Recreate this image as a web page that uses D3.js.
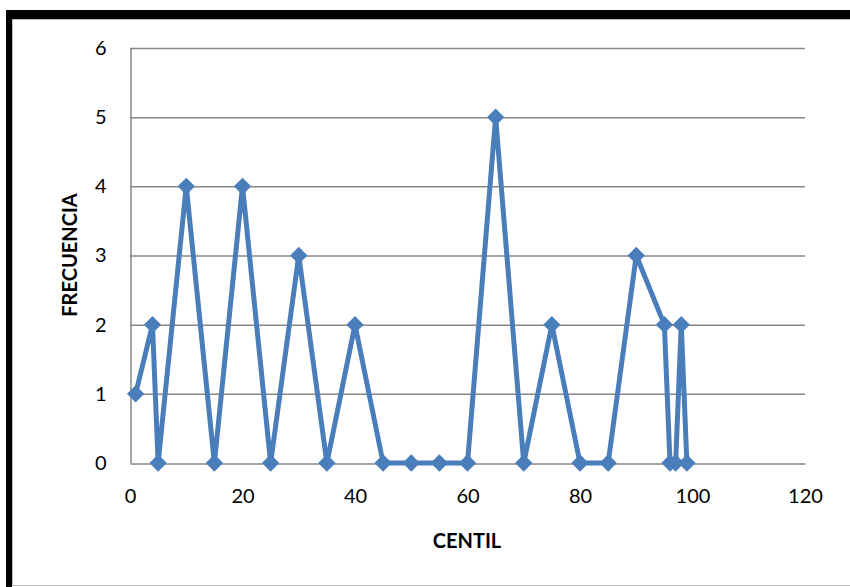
<!DOCTYPE html>
<html><head><meta charset="utf-8">
<script src="https://cdn.jsdelivr.net/npm/d3@7"></script>
<style>html,body{margin:0;padding:0;background:#fff;}svg{display:block;}</style>
</head><body>
<svg id="c" width="850" height="587"></svg>
<script>
const centil = [1,4,5,10,15,20,25,30,35,40,45,50,55,60,65,70,75,80,85,90,95,96,97,98,99];
const frecuencia = [1,2,0,4,0,4,0,3,0,2,0,0,0,0,5,0,2,0,0,3,2,0,0,2,0];
const xTicks = [0,20,40,60,80,100,120];
const yTicks = [0,1,2,3,4,5,6];
const xTitle = "CENTIL";
const yTitle = "FRECUENCIA";

const svg = d3.select("#c");
const font = "Lato, 'Open Sans', sans-serif";
// frame
svg.append("rect").attr("x",6).attr("y",10).attr("width",844).attr("height",9).attr("fill","#000");
svg.append("rect").attr("x",6).attr("y",10).attr("width",6).attr("height",577).attr("fill","#000");
svg.append("rect").attr("x",12.5).attr("y",19.5).attr("width",845).attr("height",566).attr("fill","none").attr("stroke","#bbb").attr("stroke-width",1);

const x = d3.scaleLinear().domain([0,120]).range([130,805]);
const y = d3.scaleLinear().domain([0,6]).range([463,48]);

// gridlines
svg.append("g").selectAll("line").data(yTicks.filter(d=>d>0)).enter().append("line")
  .attr("x1",x(0)).attr("x2",x(120)).attr("y1",d=>y(d)+0.5).attr("y2",d=>y(d)+0.5)
  .attr("stroke","#878787").attr("stroke-width",1.5);

const xAxis = d3.axisBottom(x).tickValues(xTicks).tickFormat(d3.format("d")).tickSize(0).tickPadding(25);
const xg = svg.append("g").attr("transform",`translate(0,${y(0)+0.5})`).call(xAxis);
xg.select(".domain").attr("stroke","#878787").attr("stroke-width",1.5);
xg.selectAll("text").attr("font-family",font).attr("font-size",20).attr("fill","#000");

const yAxis = d3.axisLeft(y).tickValues(yTicks).tickFormat(d3.format("d")).tickSize(0).tickPadding(24);
const yg = svg.append("g").attr("transform",`translate(${x(0)+0.5},0)`).call(yAxis);
yg.select(".domain").attr("stroke","#878787").attr("stroke-width",1.5);
yg.selectAll("text").attr("font-family",font).attr("font-size",20).attr("fill","#000");

const data = centil.map((c,i)=>({x:c,y:frecuencia[i]}));
svg.append("path").datum(data)
  .attr("d",d3.line().x(d=>x(d.x)).y(d=>y(d.y)))
  .attr("fill","none").attr("stroke","#4a7ebb").attr("stroke-width",5).attr("stroke-linejoin","round");

const sym = d3.symbol().type(d3.symbolSquare).size(150);
svg.selectAll(".pt").data(data).enter().append("path")
  .attr("d",sym).attr("transform",d=>`translate(${x(d.x)},${y(d.y)}) rotate(45)`)
  .attr("fill","#4a7ebb");

svg.append("text").attr("x",467).attr("y",548).attr("text-anchor","middle")
  .attr("font-family",font).attr("font-weight","bold").attr("font-size",20).text(xTitle);
svg.append("text").attr("transform","translate(77,255) rotate(-90)").attr("text-anchor","middle")
  .attr("font-family",font).attr("font-weight","bold").attr("font-size",20).text(yTitle);
</script>
</body></html>
